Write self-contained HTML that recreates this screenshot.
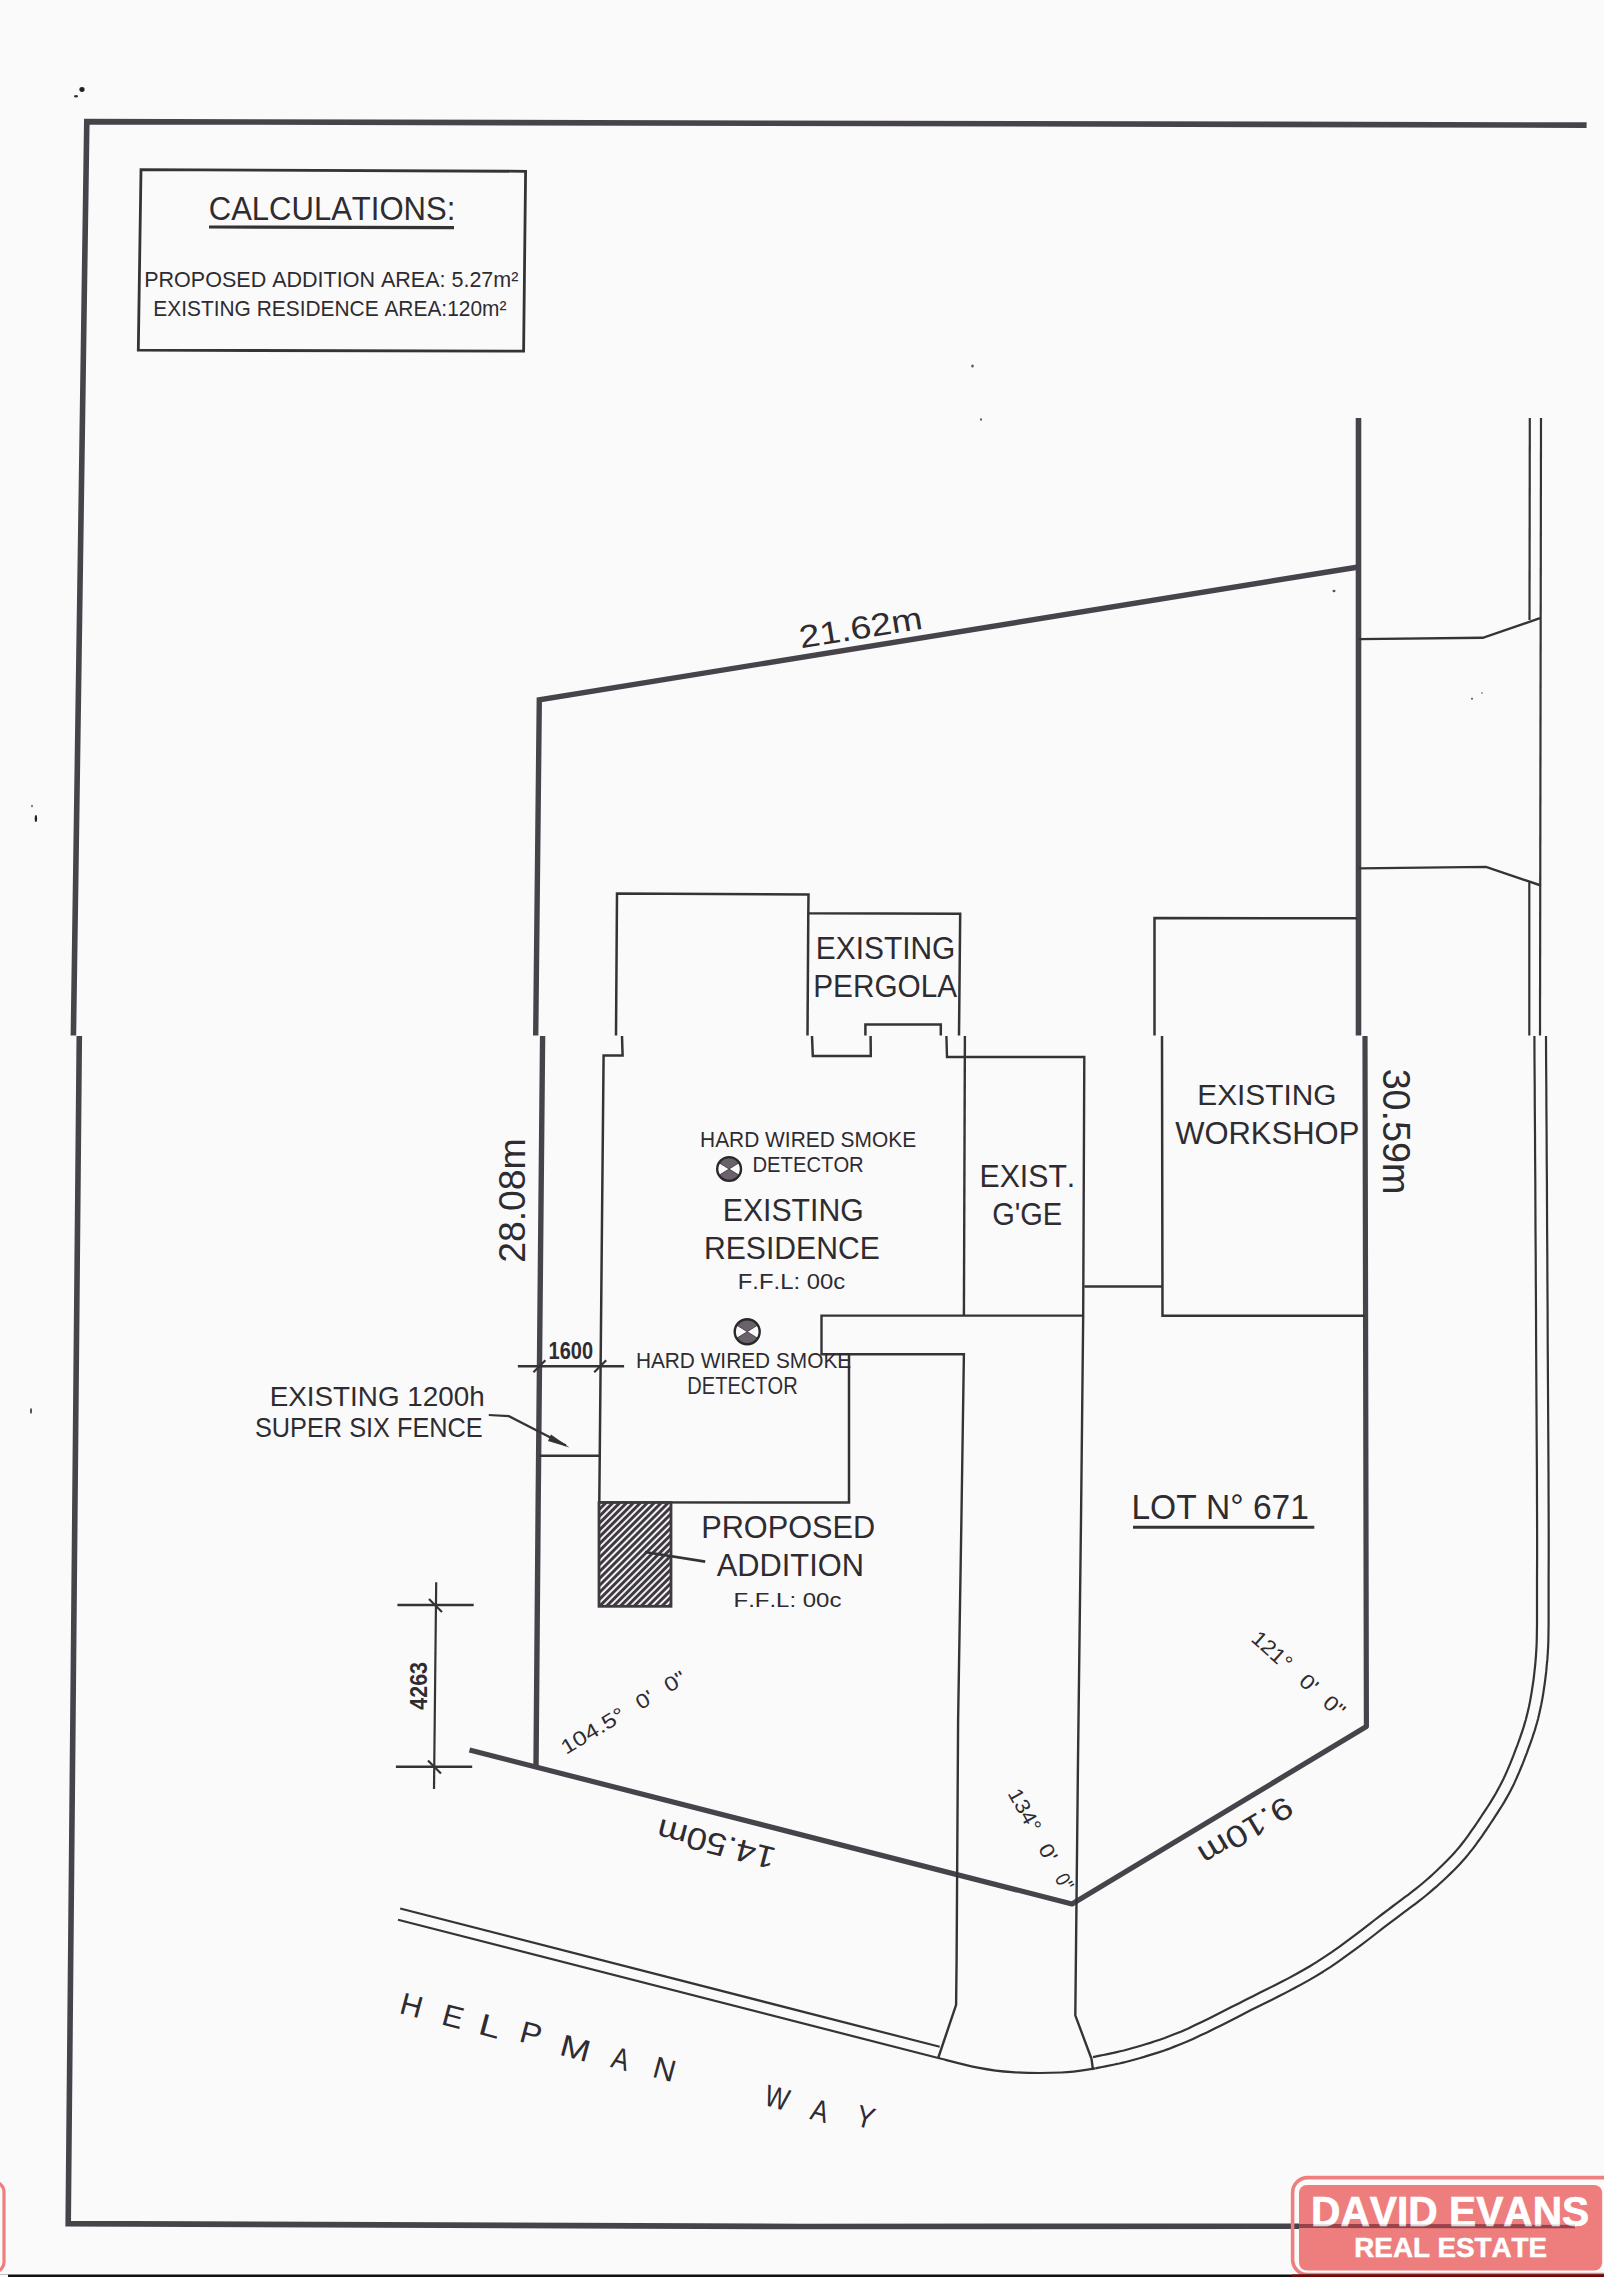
<!DOCTYPE html>
<html><head><meta charset="utf-8"><title>Site Plan</title>
<style>
html,body{margin:0;padding:0;background:#fbfafb;}
body{width:1604px;height:2277px;overflow:hidden;position:relative;}
svg{position:absolute;left:0;top:0;}
text{font-family:"Liberation Sans",sans-serif;font-kerning:none;}
</style></head><body>
<svg width="1604" height="2277" viewBox="0 0 1604 2277">
<defs>
<pattern id="hatch" patternUnits="userSpaceOnUse" width="4.9" height="4.9" patternTransform="rotate(45)">
<rect width="4.9" height="4.9" fill="#f2f0f2"/>
<rect x="0" y="0" width="2.9" height="4.9" fill="#3c383e"/>
</pattern>
</defs>
<polyline points="73.4,1035.5 86.8,121.6 1586.6,125.1" fill="none" stroke="#47434a" stroke-width="5.6" stroke-linejoin="miter" stroke-linecap="butt"/>
<polyline points="79.3,1036 68.2,2223.6 800,2226.5 1575,2226.2" fill="none" stroke="#47434a" stroke-width="5.6" stroke-linejoin="miter" stroke-linecap="butt"/>
<ellipse cx="82" cy="89.5" rx="2.6" ry="2.4" fill="#222"/>
<ellipse cx="76" cy="96.3" rx="2" ry="1.2" fill="#333"/>
<ellipse cx="35.9" cy="818.5" rx="1.2" ry="3.6" fill="#222"/>
<ellipse cx="32" cy="806" rx="1" ry="1.2" fill="#777"/>
<ellipse cx="31" cy="1411" rx="1" ry="3" fill="#444"/>
<polygon points="141,169.6 525.6,171.3 523.6,351.2 138.3,350.2" fill="none" stroke="#353336" stroke-width="2.8" stroke-linejoin="miter" stroke-linecap="butt"/>
<text x="208.72" y="219.68" font-size="32.49" textLength="246.61" lengthAdjust="spacingAndGlyphs" font-weight="normal" fill="#2e2c30" >CALCULATIONS:</text>
<line x1="209" y1="227" x2="454" y2="227.6" stroke="#353336" stroke-width="3.2" stroke-linecap="butt"/>
<text x="144.24" y="287.28" font-size="22.17" textLength="374.17" lengthAdjust="spacingAndGlyphs" font-weight="normal" fill="#2e2c30" >PROPOSED ADDITION AREA: 5.27m²</text>
<text x="153.29" y="315.79" font-size="21.89" textLength="353.11" lengthAdjust="spacingAndGlyphs" font-weight="normal" fill="#2e2c30" >EXISTING RESIDENCE AREA:120m²</text>
<polyline points="535.7,1035.5 539.3,699.8 1358.5,567" fill="none" stroke="#47434a" stroke-width="5.4" stroke-linejoin="miter" stroke-linecap="butt"/>
<line x1="1358.5" y1="418" x2="1358.5" y2="1035.5" stroke="#47434a" stroke-width="5.6" stroke-linecap="butt"/>
<polyline points="542.6,1036 538.2,1500 536,1767" fill="none" stroke="#47434a" stroke-width="5.4" stroke-linejoin="miter" stroke-linecap="butt"/>
<polyline points="1365,1036 1366.4,1726.5 1072,1904 469.5,1750" fill="none" stroke="#47434a" stroke-width="5.2" stroke-linejoin="round" stroke-linecap="butt"/>
<text transform="translate(860.30,627.60) rotate(-9.2)" x="-61.87" y="10.94" font-size="31.78" textLength="124.33" lengthAdjust="spacingAndGlyphs" font-weight="normal" fill="#2e2c30">21.62m</text>
<line x1="1529.8" y1="418" x2="1529.5" y2="620" stroke="#353336" stroke-width="2.2" stroke-linecap="butt"/>
<line x1="1541" y1="418" x2="1540" y2="1035.5" stroke="#353336" stroke-width="2.2" stroke-linecap="butt"/>
<polyline points="1359,639.1 1482.8,637.8 1540,618.2" fill="none" stroke="#353336" stroke-width="2.4" stroke-linejoin="miter" stroke-linecap="butt"/>
<polyline points="1359,868.4 1486,866.9 1541,885.5" fill="none" stroke="#353336" stroke-width="2.4" stroke-linejoin="miter" stroke-linecap="butt"/>
<line x1="1529.3" y1="882.2" x2="1529.3" y2="1035.5" stroke="#353336" stroke-width="2.2" stroke-linecap="butt"/>
<polyline points="1534.4,1036.0 1534.5,1060.3 1534.7,1084.4 1534.8,1108.4 1535.0,1132.4 1535.1,1156.4 1535.3,1180.6 1535.4,1204.9 1535.5,1229.6 1535.7,1254.6 1535.8,1280.0 1536.0,1309.6 1536.1,1341.1 1536.3,1373.8 1536.5,1407.0 1536.7,1440.1 1536.9,1472.4 1537.0,1503.2 1537.1,1531.9 1537.1,1557.7 1537.0,1580.0 1537.0,1590.0 1537.0,1599.3 1537.0,1607.9 1537.0,1616.0 1537.0,1623.7 1536.9,1631.0 1536.8,1638.1 1536.6,1645.1 1536.2,1652.0 1535.7,1659.0 1535.2,1664.8 1534.6,1670.4 1534.0,1676.0 1533.3,1681.4 1532.5,1686.7 1531.7,1691.9 1530.8,1697.1 1529.9,1702.1 1528.9,1707.0 1527.8,1711.8 1526.8,1715.8 1525.8,1719.7 1524.7,1723.4 1523.6,1727.1 1522.4,1730.8 1521.2,1734.3 1520.0,1737.9 1518.7,1741.5 1517.4,1745.1 1516.0,1748.7 1514.6,1752.4 1513.2,1756.2 1511.7,1759.9 1510.2,1763.6 1508.6,1767.4 1507.0,1771.1 1505.4,1774.8 1503.7,1778.4 1501.9,1782.0 1500.1,1785.6 1498.2,1789.1 1496.2,1792.7 1494.2,1796.2 1492.1,1799.6 1490.0,1803.1 1487.8,1806.5 1485.6,1809.8 1483.4,1813.2 1481.2,1816.5 1479.0,1819.8 1476.9,1823.0 1474.8,1826.1 1472.6,1829.2 1470.5,1832.2 1468.3,1835.3 1466.1,1838.3 1463.9,1841.3 1461.6,1844.2 1459.2,1847.2 1456.7,1850.1 1454.0,1853.2 1451.2,1856.3 1448.3,1859.3 1445.3,1862.3 1442.3,1865.3 1439.2,1868.3 1436.1,1871.2 1432.9,1874.2 1429.7,1877.1 1426.4,1880.0 1422.9,1883.0 1419.3,1886.0 1415.7,1888.9 1412.1,1891.7 1408.4,1894.6 1404.5,1897.4 1400.6,1900.4 1396.6,1903.4 1392.4,1906.5 1388.0,1909.8 1381.8,1914.5 1375.3,1919.5 1368.4,1924.8 1361.3,1930.3 1354.0,1935.8 1346.6,1941.3 1339.2,1946.8 1331.7,1952.1 1324.2,1957.1 1316.9,1961.9 1309.9,1966.2 1302.9,1970.3 1295.8,1974.2 1288.7,1978.1 1281.6,1981.8 1274.4,1985.4 1267.3,1989.0 1260.1,1992.6 1253.0,1996.2 1245.8,1999.8 1238.7,2003.4 1231.4,2007.1 1224.1,2010.8 1216.8,2014.5 1209.5,2018.2 1202.3,2021.7 1195.2,2025.1 1188.2,2028.4 1181.4,2031.4 1174.8,2034.1 1169.7,2036.1 1164.7,2038.0 1159.8,2039.7 1154.9,2041.3 1150.2,2042.9 1145.5,2044.3 1140.8,2045.7 1136.3,2047.0 1131.8,2048.3 1127.4,2049.5 1123.8,2050.5 1120.2,2051.3 1116.7,2052.1 1113.3,2052.9 1109.9,2053.6 1106.5,2054.3 1103.2,2055.0 1099.8,2055.7 1096.4,2056.4 1093.0,2057.1" fill="none" stroke="#353336" stroke-width="2.2" stroke-linejoin="round"/>
<polyline points="1546.0,1035.9 1546.1,1060.2 1546.3,1084.3 1546.4,1108.3 1546.6,1132.3 1546.7,1156.4 1546.9,1180.5 1547.0,1204.9 1547.1,1229.5 1547.3,1254.5 1547.4,1279.9 1547.6,1309.5 1547.7,1341.0 1547.9,1373.7 1548.1,1407.0 1548.3,1440.1 1548.5,1472.4 1548.6,1503.2 1548.7,1531.8 1548.7,1557.7 1548.6,1580.0 1548.6,1590.1 1548.6,1599.3 1548.6,1607.9 1548.6,1616.0 1548.6,1623.7 1548.5,1631.2 1548.4,1638.4 1548.2,1645.5 1547.8,1652.7 1547.3,1659.9 1546.7,1665.9 1546.2,1671.7 1545.5,1677.4 1544.8,1682.9 1544.0,1688.4 1543.2,1693.8 1542.3,1699.1 1541.3,1704.3 1540.2,1709.4 1539.1,1714.4 1538.1,1718.7 1537.0,1722.7 1535.8,1726.7 1534.7,1730.6 1533.4,1734.4 1532.2,1738.1 1530.9,1741.8 1529.6,1745.5 1528.2,1749.1 1526.9,1752.8 1525.4,1756.6 1524.0,1760.4 1522.5,1764.2 1520.9,1768.0 1519.3,1771.9 1517.6,1775.7 1515.9,1779.6 1514.2,1783.4 1512.3,1787.2 1510.4,1791.0 1508.4,1794.7 1506.3,1798.4 1504.2,1802.1 1502.0,1805.7 1499.8,1809.2 1497.6,1812.7 1495.3,1816.2 1493.1,1819.6 1490.8,1823.0 1488.6,1826.3 1486.5,1829.5 1484.3,1832.6 1482.2,1835.8 1480.0,1838.9 1477.7,1842.0 1475.5,1845.2 1473.1,1848.3 1470.6,1851.4 1468.1,1854.6 1465.5,1857.7 1462.6,1860.9 1459.7,1864.2 1456.6,1867.4 1453.6,1870.5 1450.4,1873.6 1447.2,1876.7 1444.0,1879.7 1440.7,1882.8 1437.4,1885.8 1434.0,1888.7 1430.3,1891.9 1426.6,1895.0 1422.9,1898.0 1419.2,1900.9 1415.4,1903.8 1411.5,1906.7 1407.6,1909.7 1403.5,1912.7 1399.3,1915.8 1395.0,1919.1 1388.9,1923.7 1382.3,1928.7 1375.5,1934.0 1368.4,1939.5 1361.0,1945.1 1353.5,1950.6 1345.9,1956.2 1338.3,1961.6 1330.7,1966.8 1323.1,1971.7 1315.9,1976.1 1308.6,1980.4 1301.4,1984.4 1294.1,1988.3 1286.9,1992.1 1279.7,1995.8 1272.5,1999.4 1265.3,2003.0 1258.2,2006.6 1251.0,2010.1 1243.9,2013.8 1236.7,2017.5 1229.4,2021.2 1222.0,2024.9 1214.7,2028.6 1207.4,2032.2 1200.1,2035.6 1193.0,2038.9 1186.0,2042.0 1179.2,2044.8 1173.8,2046.9 1168.7,2048.9 1163.6,2050.7 1158.6,2052.4 1153.7,2053.9 1148.8,2055.4 1144.1,2056.9 1139.5,2058.2 1134.9,2059.5 1130.4,2060.7 1126.6,2061.7 1122.9,2062.6 1119.3,2063.5 1115.7,2064.2 1112.2,2065.0 1108.8,2065.7 1105.5,2066.3 1102.1,2067.0 1098.8,2067.7 1095.4,2068.4" fill="none" stroke="#353336" stroke-width="2.2" stroke-linejoin="round"/>
<path d="M1095.4485420799244,2068.4386349126708 C1089.8,2069.1 1075.5,2071.9 1061.6,2072.5 C1047.7,2073.1 1026.2,2073.0 1012.2,2072.2 C998.2,2071.4 990.1,2070.1 977.8,2067.7 C965.5,2065.3 944.8,2059.6 938.2,2058" fill="none" stroke="#353336" stroke-width="2.2" stroke-linejoin="round"/>
<line x1="938.2" y1="2058" x2="398" y2="1919.7" stroke="#353336" stroke-width="2.2" stroke-linecap="butt"/>
<line x1="939.7" y1="2046.8" x2="400.2" y2="1908.5" stroke="#353336" stroke-width="2.2" stroke-linecap="butt"/>
<polyline points="616,1035.5 617,893.6 808.5,894.6 808.3,913.2 960.2,913.8 959,1035.5" fill="none" stroke="#353336" stroke-width="2.5" stroke-linejoin="miter" stroke-linecap="butt"/>
<line x1="808.3" y1="913.2" x2="807.5" y2="1035.5" stroke="#353336" stroke-width="2.5" stroke-linecap="butt"/>
<polyline points="865.4,1035.5 865.4,1024.5 940.8,1024.5 940.8,1035.5" fill="none" stroke="#353336" stroke-width="2.5" stroke-linejoin="miter" stroke-linecap="butt"/>
<polyline points="1154.5,1035.5 1154.5,918 1357,918.3" fill="none" stroke="#353336" stroke-width="2.5" stroke-linejoin="miter" stroke-linecap="butt"/>
<polyline points="622,1036 622.6,1055.5 603.6,1055.6 599.3,1502.2 849,1502.6 849,1354.5" fill="none" stroke="#353336" stroke-width="2.5" stroke-linejoin="miter" stroke-linecap="butt"/>
<polyline points="812,1036 812.8,1056 870.8,1056 870.6,1036" fill="none" stroke="#353336" stroke-width="2.5" stroke-linejoin="miter" stroke-linecap="butt"/>
<polyline points="946.4,1036 947,1057 1084.3,1057 1083.2,1315 1081,1520 1078,1760 1075.3,2015.4 1091.5,2058.8 1093,2070" fill="none" stroke="#353336" stroke-width="2.4" stroke-linejoin="miter" stroke-linecap="butt"/>
<line x1="964.9" y1="1036" x2="963.9" y2="1315.6" stroke="#353336" stroke-width="2.4" stroke-linecap="butt"/>
<polyline points="1083.2,1315.6 821.5,1315.6 821.5,1354.2 963.9,1354.2 961.4,1520 958.1,1720 956.6,1960 956.1,2004.9 938.2,2058" fill="none" stroke="#353336" stroke-width="2.4" stroke-linejoin="miter" stroke-linecap="butt"/>
<line x1="1084.3" y1="1286.5" x2="1163" y2="1286.5" stroke="#353336" stroke-width="2.4" stroke-linecap="butt"/>
<polyline points="1162,1036 1162.5,1315.8 1365,1315.8" fill="none" stroke="#353336" stroke-width="2.5" stroke-linejoin="miter" stroke-linecap="butt"/>
<text x="815.85" y="958.69" font-size="31.36" textLength="139.48" lengthAdjust="spacingAndGlyphs" font-weight="normal" fill="#2e2c30" >EXISTING</text>
<text x="813.26" y="997.19" font-size="32.20" textLength="143.80" lengthAdjust="spacingAndGlyphs" font-weight="normal" fill="#2e2c30" >PERGOLA</text>
<text x="700.09" y="1147.28" font-size="22.88" textLength="216.01" lengthAdjust="spacingAndGlyphs" font-weight="normal" fill="#2e2c30" >HARD WIRED SMOKE</text>
<text x="752.44" y="1172.49" font-size="21.47" textLength="111.30" lengthAdjust="spacingAndGlyphs" font-weight="normal" fill="#2e2c30" >DETECTOR</text>
<circle cx="729.1" cy="1169" r="11.5" fill="#fbfafb"/>
<path d="M729.1,1169 L719.35,1162.91 A11.5,11.5 0 0 1 738.85,1162.91 Z M729.1,1169 L738.85,1175.09 A11.5,11.5 0 0 1 719.35,1175.09 Z" fill="#6a626a" stroke="#3a353b" stroke-width="0.8" stroke-linejoin="round"/>
<circle cx="729.1" cy="1169" r="11.9" fill="none" stroke="#2a282b" stroke-width="2.4"/>
<text x="722.82" y="1221.29" font-size="31.36" textLength="140.93" lengthAdjust="spacingAndGlyphs" font-weight="normal" fill="#2e2c30" >EXISTING</text>
<text x="704.03" y="1259.29" font-size="31.50" textLength="175.77" lengthAdjust="spacingAndGlyphs" font-weight="normal" fill="#2e2c30" >RESIDENCE</text>
<text x="737.74" y="1289.48" font-size="22.17" textLength="107.39" lengthAdjust="spacingAndGlyphs" font-weight="normal" fill="#2e2c30" >F.F.L: 00c</text>
<text x="979.52" y="1186.70" font-size="30.79" textLength="95.74" lengthAdjust="spacingAndGlyphs" font-weight="normal" fill="#2e2c30" >EXIST.</text>
<text x="992.14" y="1224.69" font-size="31.64" textLength="70.11" lengthAdjust="spacingAndGlyphs" font-weight="normal" fill="#2e2c30" >G'GE</text>
<text x="1197.25" y="1104.71" font-size="29.38" textLength="139.28" lengthAdjust="spacingAndGlyphs" font-weight="normal" fill="#2e2c30" >EXISTING</text>
<text x="1175.16" y="1143.99" font-size="32.06" textLength="184.17" lengthAdjust="spacingAndGlyphs" font-weight="normal" fill="#2e2c30" >WORKSHOP</text>
<text transform="translate(1396.30,1130.90) rotate(90)" x="-62.28" y="13.13" font-size="38.14" textLength="125.62" lengthAdjust="spacingAndGlyphs" font-weight="normal" fill="#2e2c30">30.59m</text>
<text transform="translate(512.60,1200.90) rotate(-90)" x="-61.98" y="12.45" font-size="36.16" textLength="124.54" lengthAdjust="spacingAndGlyphs" font-weight="normal" fill="#2e2c30">28.08m</text>
<circle cx="747.2" cy="1331.7" r="12.1" fill="#fbfafb"/>
<path d="M747.2,1331.7 L736.94,1325.29 A12.1,12.1 0 0 1 757.46,1325.29 Z M747.2,1331.7 L757.46,1338.11 A12.1,12.1 0 0 1 736.94,1338.11 Z" fill="#6a626a" stroke="#3a353b" stroke-width="0.8" stroke-linejoin="round"/>
<circle cx="747.2" cy="1331.7" r="12.5" fill="none" stroke="#2a282b" stroke-width="2.4"/>
<text x="635.89" y="1367.78" font-size="22.03" textLength="215.30" lengthAdjust="spacingAndGlyphs" font-weight="normal" fill="#2e2c30" >HARD WIRED SMOKE</text>
<text x="687.36" y="1394.08" font-size="23.02" textLength="110.27" lengthAdjust="spacingAndGlyphs" font-weight="normal" fill="#2e2c30" >DETECTOR</text>
<line x1="517.9" y1="1366.3" x2="624.1" y2="1366.3" stroke="#353336" stroke-width="2.4" stroke-linecap="butt"/>
<line x1="533.4" y1="1372.3" x2="545.4" y2="1360.3" stroke="#353336" stroke-width="2.2" stroke-linecap="butt"/>
<line x1="594.2" y1="1372.3" x2="606.2" y2="1360.3" stroke="#353336" stroke-width="2.2" stroke-linecap="butt"/>
<text x="548.54" y="1358.67" font-size="24.01" textLength="44.48" lengthAdjust="spacingAndGlyphs" font-weight="bold" fill="#2e2c30" >1600</text>
<line x1="539.7" y1="1455.8" x2="600.1" y2="1455.8" stroke="#353336" stroke-width="2.4" stroke-linecap="butt"/>
<polyline points="488.8,1415 508.9,1416.2 566,1445.5" fill="none" stroke="#353336" stroke-width="2.2" stroke-linejoin="miter" stroke-linecap="butt"/>
<polygon points="569.5,1447.5 551,1434.5 548,1441" fill="#333"/>
<text x="269.72" y="1406.43" font-size="27.37" textLength="214.89" lengthAdjust="spacingAndGlyphs" font-weight="normal" fill="#2e2c30" >EXISTING 1200h</text>
<text x="254.95" y="1437.22" font-size="28.39" textLength="227.74" lengthAdjust="spacingAndGlyphs" font-weight="normal" fill="#2e2c30" >SUPER SIX FENCE</text>
<rect x="599" y="1502.5" width="72" height="103.8" fill="url(#hatch)" stroke="#3e3a40" stroke-width="2.8"/>
<line x1="644.8" y1="1552" x2="705.2" y2="1561.6" stroke="#353336" stroke-width="2.6" stroke-linecap="butt"/>
<text x="701.18" y="1537.99" font-size="31.50" textLength="173.99" lengthAdjust="spacingAndGlyphs" font-weight="normal" fill="#2e2c30" >PROPOSED</text>
<text x="716.74" y="1576.09" font-size="31.36" textLength="147.17" lengthAdjust="spacingAndGlyphs" font-weight="normal" fill="#2e2c30" >ADDITION</text>
<text x="733.53" y="1606.99" font-size="21.04" textLength="107.90" lengthAdjust="spacingAndGlyphs" font-weight="normal" fill="#2e2c30" >F.F.L: 00c</text>
<text x="1131.45" y="1518.66" font-size="34.60" textLength="177.39" lengthAdjust="spacingAndGlyphs" font-weight="normal" fill="#2e2c30" >LOT N° 671</text>
<line x1="1133" y1="1527.2" x2="1314.3" y2="1527.2" stroke="#353336" stroke-width="3" stroke-linecap="butt"/>
<line x1="436.2" y1="1582.3" x2="434" y2="1789" stroke="#353336" stroke-width="2.2" stroke-linecap="butt"/>
<line x1="397.4" y1="1605" x2="473.7" y2="1605" stroke="#353336" stroke-width="2.4" stroke-linecap="butt"/>
<line x1="395.9" y1="1766.7" x2="472.2" y2="1766.7" stroke="#353336" stroke-width="2.4" stroke-linecap="butt"/>
<line x1="429" y1="1599" x2="442" y2="1612" stroke="#353336" stroke-width="2.2" stroke-linecap="butt"/>
<line x1="428" y1="1760.5" x2="441" y2="1773.5" stroke="#353336" stroke-width="2.2" stroke-linecap="butt"/>
<text transform="translate(419.20,1686.10) rotate(-90)" x="-23.62" y="8.23" font-size="23.96" textLength="47.70" lengthAdjust="spacingAndGlyphs" font-weight="bold" fill="#2e2c30">4263</text>
<text transform="translate(593.00,1730.60) rotate(-31)" x="-35.82" y="7.00" font-size="20.34" textLength="71.24" lengthAdjust="spacingAndGlyphs" font-weight="normal" fill="#2e2c30">104.5°</text>
<text transform="translate(644.40,1699.70) rotate(-31)" x="-8.61" y="7.00" font-size="20.34" textLength="17.49" lengthAdjust="spacingAndGlyphs" font-weight="normal" fill="#2e2c30">0'</text>
<text transform="translate(674.90,1681.40) rotate(-31)" x="-10.94" y="7.00" font-size="20.34" textLength="21.97" lengthAdjust="spacingAndGlyphs" font-weight="normal" fill="#2e2c30">0"</text>
<text transform="translate(1272.30,1650.40) rotate(42)" x="-23.41" y="7.40" font-size="21.20" textLength="46.46" lengthAdjust="spacingAndGlyphs" font-weight="normal" fill="#2e2c30">121°</text>
<text transform="translate(1308.80,1683.30) rotate(42)" x="-8.50" y="7.20" font-size="20.90" textLength="17.27" lengthAdjust="spacingAndGlyphs" font-weight="normal" fill="#2e2c30">0'</text>
<text transform="translate(1334.20,1706.20) rotate(42)" x="-10.61" y="7.20" font-size="20.90" textLength="21.31" lengthAdjust="spacingAndGlyphs" font-weight="normal" fill="#2e2c30">0"</text>
<text transform="translate(1024.90,1810.30) rotate(61)" x="-23.46" y="7.10" font-size="20.62" textLength="46.57" lengthAdjust="spacingAndGlyphs" font-weight="normal" fill="#2e2c30">134°</text>
<text transform="translate(1048.20,1852.40) rotate(61)" x="-8.50" y="7.10" font-size="20.62" textLength="17.27" lengthAdjust="spacingAndGlyphs" font-weight="normal" fill="#2e2c30">0'</text>
<text transform="translate(1064.50,1881.80) rotate(61)" x="-8.10" y="7.10" font-size="20.62" textLength="16.25" lengthAdjust="spacingAndGlyphs" font-weight="normal" fill="#2e2c30">0"</text>
<text transform="translate(716.10,1844.00) rotate(194.4)" x="-60.77" y="10.70" font-size="31.07" textLength="121.16" lengthAdjust="spacingAndGlyphs" font-weight="normal" fill="#2e2c30">14.50m</text>
<text transform="translate(1246.00,1830.90) rotate(149)" x="-51.76" y="10.55" font-size="30.65" textLength="104.23" lengthAdjust="spacingAndGlyphs" font-weight="normal" fill="#2e2c30">9.10m</text>
<text transform="translate(411.50,2005.35) rotate(15)" x="-11.00" y="10.50" font-size="30.52" textLength="21.98" lengthAdjust="spacingAndGlyphs" font-weight="normal" fill="#2e2c30">H</text>
<text transform="translate(453.75,2016.70) rotate(15)" x="-11.07" y="10.50" font-size="30.52" textLength="20.92" lengthAdjust="spacingAndGlyphs" font-weight="normal" fill="#2e2c30">E</text>
<text transform="translate(491.00,2026.40) rotate(15)" x="-11.66" y="10.50" font-size="30.52" textLength="21.44" lengthAdjust="spacingAndGlyphs" font-weight="normal" fill="#2e2c30">L</text>
<text transform="translate(531.50,2033.75) rotate(15)" x="-11.12" y="10.50" font-size="30.52" textLength="21.30" lengthAdjust="spacingAndGlyphs" font-weight="normal" fill="#2e2c30">P</text>
<text transform="translate(575.35,2048.25) rotate(15)" x="-14.94" y="10.50" font-size="30.52" textLength="29.89" lengthAdjust="spacingAndGlyphs" font-weight="normal" fill="#2e2c30">M</text>
<text transform="translate(620.60,2058.90) rotate(15)" x="-8.55" y="10.50" font-size="30.52" textLength="17.10" lengthAdjust="spacingAndGlyphs" font-weight="normal" fill="#2e2c30">A</text>
<text transform="translate(664.50,2069.30) rotate(15)" x="-11.00" y="10.50" font-size="30.52" textLength="21.98" lengthAdjust="spacingAndGlyphs" font-weight="normal" fill="#2e2c30">N</text>
<text transform="translate(777.10,2097.75) rotate(15)" x="-12.11" y="10.50" font-size="30.52" textLength="24.20" lengthAdjust="spacingAndGlyphs" font-weight="normal" fill="#2e2c30">W</text>
<text transform="translate(820.05,2110.75) rotate(15)" x="-8.55" y="10.50" font-size="30.52" textLength="17.10" lengthAdjust="spacingAndGlyphs" font-weight="normal" fill="#2e2c30">A</text>
<text transform="translate(865.50,2117.30) rotate(15)" x="-9.10" y="10.50" font-size="30.52" textLength="18.20" lengthAdjust="spacingAndGlyphs" font-weight="normal" fill="#2e2c30">Y</text>
<rect x="1292.6" y="2177.6" width="330" height="97" rx="15" ry="15" fill="none" stroke="#ee7f7f" stroke-width="3.6"/>
<rect x="1299" y="2185" width="303.2" height="85.5" rx="8" ry="8" fill="#ee7d7d"/>
<line x1="1299" y1="2226" x2="1575" y2="2226.2" stroke="#a8343c" stroke-width="4"/>
<text x="1311.08" y="2225.58" font-size="42.65" textLength="278.11" lengthAdjust="spacingAndGlyphs" font-weight="bold" fill="#ffffff" stroke="#ffffff" stroke-width="0.7">DAVID EVANS</text>
<text x="1354.34" y="2256.93" font-size="27.82" textLength="192.74" lengthAdjust="spacingAndGlyphs" font-weight="bold" fill="#ffffff" stroke="#ffffff" stroke-width="0.5">REAL ESTATE</text>
<line x1="1299" y1="2226" x2="1575" y2="2226.2" stroke="rgba(100,110,120,0.28)" stroke-width="3.6"/>
<rect x="0" y="2274.5" width="1604" height="3" fill="#111"/>
<rect x="0" y="2274.5" width="8" height="3" fill="#fbfafb"/>
<rect x="1292" y="2274.5" width="312" height="3" fill="#6e0808"/>
<path d="M-12,2182 H-6 A10,10 0 0 1 4,2192 V2262 A10,10 0 0 1 -6,2272 H-12" fill="none" stroke="#ee7f7f" stroke-width="3.2"/>
<ellipse cx="972.5" cy="366" rx="1.3" ry="1.6" fill="#555"/>
<ellipse cx="981" cy="419.5" rx="1" ry="1.2" fill="#555"/>
<ellipse cx="1334" cy="591" rx="1.5" ry="1.2" fill="#555"/>
<ellipse cx="1472" cy="698.8" rx="1" ry="1" fill="#555"/>
<ellipse cx="1482" cy="693" rx="0.8" ry="0.8" fill="#555"/>
</svg>
</body></html>
